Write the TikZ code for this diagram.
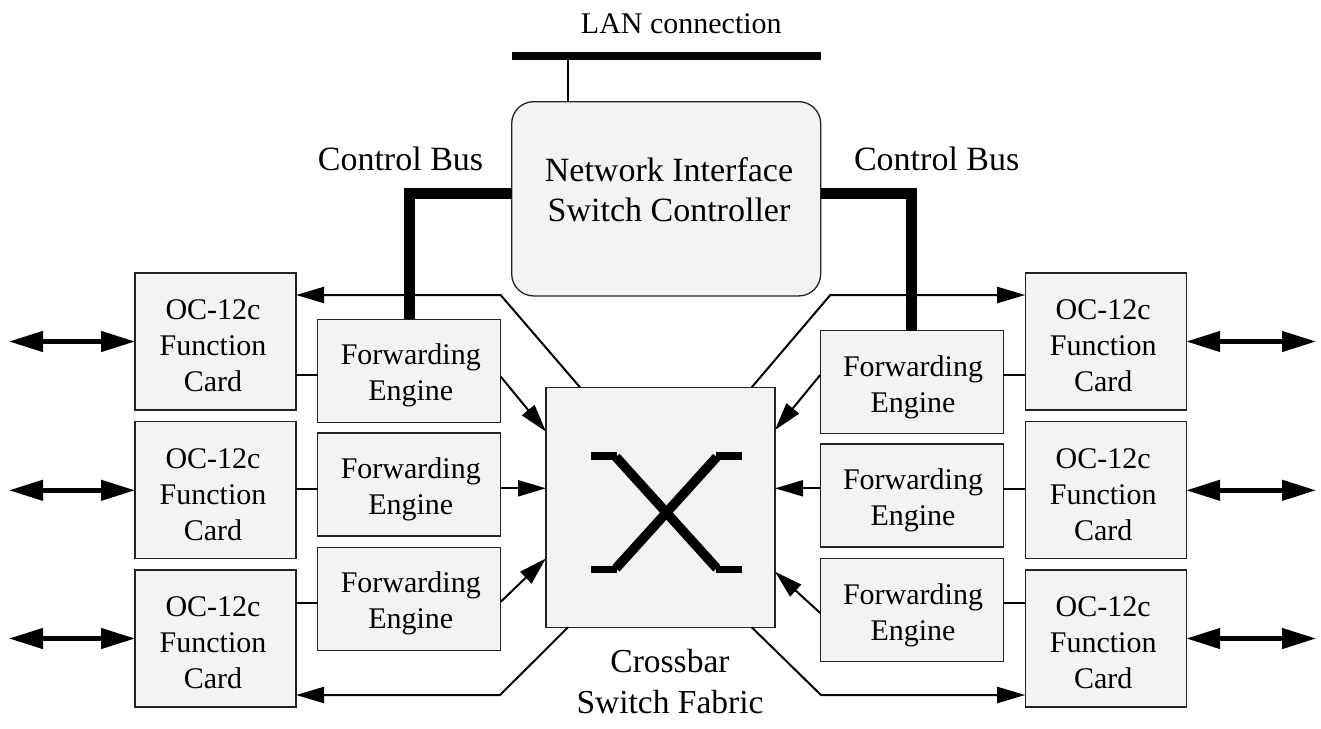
\documentclass[tikz,border=0pt]{standalone}
\usepackage{fontspec}
\setmainfont{Liberation Serif}
\usetikzlibrary{arrows.meta}
\definecolor{boxfill}{RGB}{243,243,243}
\definecolor{boxline}{RGB}{35,35,35}

\begin{document}
\begin{tikzpicture}[x=1pt,y=-1pt,
  box/.style={draw=boxline, line width=1.3pt, fill=boxfill, inner sep=0pt, outer sep=0pt},
  cardbox/.style={box, minimum width=161pt, minimum height=137pt},
  fwdbox/.style={box, minimum width=183pt, minimum height=103pt},
  lbl/.style={align=center, inner sep=0pt},
  smalltext/.style={lbl, font=\fontsize{30}{36}\selectfont},
  bigtext/.style={lbl, font=\fontsize{34}{40}\selectfont},
  wire/.style={line width=2pt},
  arr/.style={wire, -{Triangle[length=28pt,width=16pt]}},
  port/.style={line width=4.5pt, {Triangle[length=34pt,width=20pt]}-{Triangle[length=34pt,width=20pt]}},
  bus/.style={line width=11pt},
  xstub/.style={line width=7.5pt, line cap=butt},
  xdiag/.style={line width=9.5pt, line cap=butt},
]
\useasboundingbox (0,0) rectangle (1321,728);

% ---- line cards and forwarding engines ----
\foreach \n/\y in {1/341.5, 2/490.3, 3/638.5} {
  \node[cardbox] (lc\n) at (215.5,\y) {};
  \node[smalltext] (lc\n-t) at ([xshift=-2.5pt,yshift=-4.2pt]lc\n.center) {OC-12c\\Function\\Card};
  \node[cardbox] (rc\n) at (1105.7,\y) {};
  \node[smalltext] (rc\n-t) at ([xshift=-2.5pt,yshift=-4.2pt]rc\n.center) {OC-12c\\Function\\Card};
}
\foreach \n/\y in {1/370.8, 2/484.5, 3/598.8} {
  \node[fwdbox] (lf\n) at (409.3,\y) {};
  \node[smalltext] (lf\n-t) at ([xshift=1.5pt,yshift=-5pt]lf\n.center) {Forwarding\\Engine};
}
\foreach \n/\y in {1/382, 2/495.5, 3/610.3} {
  \node[fwdbox] (rf\n) at (911.7,\y) {};
  \node[smalltext] (rf\n-t) at ([xshift=1.3pt,yshift=-5pt]rf\n.center) {Forwarding\\Engine};
}

% ---- crossbar with its X symbol ----
\node[box, minimum width=229pt, minimum height=240pt] (xbar) at (660.5,507.3) {};
\draw[xstub] (591,455.8) -- (616.5,455.8);
\draw[xstub] (716.2,455.8) -- (741.7,455.8);
\draw[xstub] (591,569.5) -- (616.5,569.5);
\draw[xstub] (716.2,569.5) -- (741.7,569.5);
\draw[xdiag] (616,457) -- (716.7,568.3);
\draw[xdiag] (716.7,457) -- (616,568.3);
\node[lbl, font=\fontsize{33.5}{41}\selectfont] (xbar-t) at (670,681.4) {Crossbar\\Switch Fabric};

% ---- controller and LAN ----
\node[box, rounded corners=22pt, minimum width=309pt, minimum height=194.3pt] (ctrl) at (666.2,198.8) {};
\node[bigtext] (ctrl-t) at (669,190.1) {Network Interface\\Switch Controller};

\coordinate (lanL) at (511.7,56);
\coordinate (lanR) at (820.7,56);
\coordinate (lanT) at (567.7,56);
\draw[line width=8.3pt] (lanL) -- (lanR);
\draw[wire] (lanT) -- (lanT |- ctrl.north);
\node[smalltext, anchor=base] (lan-t) at (681.3,33.3) {LAN connection};

% ---- control buses ----
\draw[bus] (ctrl.west |- 0,193) -| (lf1.north);
\draw[bus] (ctrl.east |- 0,193) -| (rf1.north);
\node[bigtext, anchor=base] (cb-l) at (400.5,170) {Control Bus};
\node[bigtext, anchor=base] (cb-r) at (936.7,170) {Control Bus};

% ---- card to engine links ----
\foreach \n/\y in {1/375, 2/489, 3/603} {
  \draw[wire] (lc\n.east |- 0,\y) -- (lf\n.west |- 0,\y);
  \draw[wire] (rf\n.east |- 0,\y) -- (rc\n.west |- 0,\y);
}

% ---- engines into the crossbar ----
\draw[arr] (lf1.east |- 0,376.7) -- (xbar.west |- 0,431.7);
\draw[arr] (lf2.east |- 0,488.3) -- (xbar.west |- 0,488.3);
\draw[arr] (lf3.east |- 0,601.7) -- (xbar.west |- 0,558.3);
\draw[arr] (rf1.west |- 0,375) -- (xbar.east |- 0,430);
\draw[arr] (rf2.west |- 0,488.3) -- (xbar.east |- 0,488.3);
\draw[arr] (rf3.west |- 0,613) -- (xbar.east |- 0,571.7);

% ---- crossbar outputs back to the cards ----
\coordinate (tlb) at (500.6,295);
\coordinate (trb) at (830.3,295);
\coordinate (blb) at (500,695);
\coordinate (brb) at (821,695);
\draw[arr] ([xshift=34pt]xbar.north west) -- (tlb) -- (lc1.east |- tlb);
\draw[arr] ([xshift=-23.3pt]xbar.north east) -- (trb) -- (rc1.west |- trb);
\draw[arr] ([xshift=22pt]xbar.south west) -- (blb) -- (lc3.east |- blb);
\draw[arr] ([xshift=-23.3pt]xbar.south east) -- (brb) -- (rc3.west |- brb);

% ---- external ports ----
\foreach \n in {1,2,3} {
  \coordinate (lp\n) at (9,0 |- lc\n.west);
  \coordinate (rp\n) at (1316,0 |- rc\n.east);
  \draw[port] (lp\n) -- (lc\n.west);
  \draw[port] (rc\n.east) -- (rp\n);
}
\end{tikzpicture}
\end{document}
